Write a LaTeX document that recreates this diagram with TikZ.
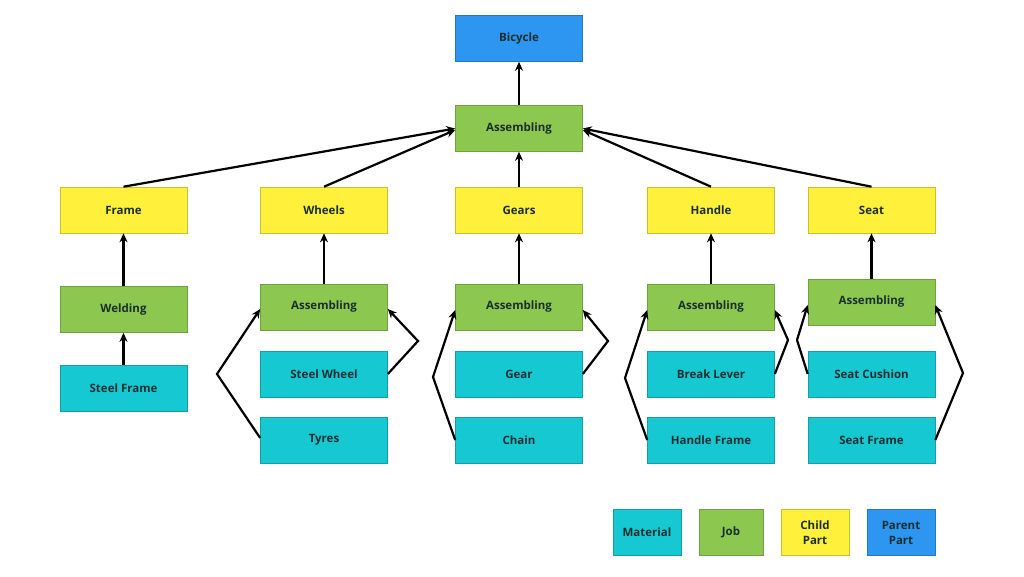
\documentclass[tikz,border=0pt]{standalone}
\usepackage{fontspec}
\setmainfont{Open Sans}
\usetikzlibrary{arrows.meta}
\definecolor{matc}{HTML}{16C8D2}
\definecolor{jobc}{HTML}{8CC850}
\definecolor{chc}{HTML}{FFF03C}
\definecolor{parc}{HTML}{2D96F0}
\definecolor{txtc}{HTML}{1A2E30}
\tikzset{
  box/.style={rectangle, minimum width=127pt, minimum height=46pt, inner sep=1pt,
    font=\fontsize{11.5}{15}\selectfont\bfseries, text=txtc, line width=0.6pt},
  mat/.style={box, fill=matc, draw=matc!80!black},
  job/.style={box, fill=jobc, draw=jobc!80!black},
  chp/.style={box, fill=chc, draw=chc!80!black},
  par/.style={box, fill=parc, draw=parc!80!black},
  arr/.style={-{Stealth[length=9pt,width=8pt]}, line width=2.2pt, black, line join=miter},
}
\begin{document}
\begin{tikzpicture}[x=1pt,y=-1pt]
\useasboundingbox[fill=white] (0,0) rectangle (1024,576);
% top
\node[par] (bicycle) at (519,38.5) {Bicycle};
\node[job] (asm0) at (519,128.5) {Assembling};
% child parts
\node[chp] (frame) at (123.5,210) {Frame};
\node[chp] (wheels) at (324,210) {Wheels};
\node[chp] (gears) at (519,210) {Gears};
\node[chp] (handle) at (711,210) {Handle};
\node[chp] (seat) at (871.5,210) {Seat};
% jobs
\node[job] (welding) at (123.5,309.5) {Welding};
\node[job] (asmW) at (324,307) {Assembling};
\node[job] (asmG) at (519,307) {Assembling};
\node[job] (asmH) at (711,307) {Assembling};
\node[job] (asmS) at (871.5,302) {Assembling};
% materials
\node[mat] (steelframe) at (123.5,388) {Steel Frame};
\node[mat] (steelwheel) at (324,374) {Steel Wheel};
\node[mat] (gear) at (519,374) {Gear};
\node[mat] (brake) at (711,374) {Break Lever};
\node[mat] (cushion) at (871.5,374) {Seat Cushion};
\node[mat] (tyres) at (324,440) {Tyres};
\node[mat] (chain) at (519,440) {Chain};
\node[mat] (hframe) at (711,440) {Handle Frame};
\node[mat] (seatframe) at (871.5,440) {Seat Frame};
% legend
\node[mat, minimum width=68pt, align=center] (lmat) at (647,532.5) {Material};
\node[job, minimum width=64pt, align=center] (ljob) at (731,532.5) {Job};
\node[chp, minimum width=68pt, align=center] (lchild) at (815,532.5) {Child\\Part};
\node[par, minimum width=68pt, align=center] (lpar) at (901,532.5) {Parent\\Part};
% bend points
\coordinate (wl) at (217,374);
\coordinate (wr) at (418,341);
\coordinate (gl) at (433,377);
\coordinate (gr) at (608,341);
\coordinate (hl) at (625,378);
\coordinate (hr) at (788,340);
\coordinate (sl) at (797,340);
\coordinate (sr) at (963,373);
% connectors
\draw[arr] (asm0) -- (bicycle);
\draw[arr] (frame.north) -- (asm0.west);
\draw[arr] (wheels.north) -- ([yshift=-1.5pt]asm0.west);
\draw[arr] (gears) -- (asm0);
\draw[arr] (handle.north) -- ([yshift=-1.5pt]asm0.east);
\draw[arr] (seat.north) -- (asm0.east);
\draw[arr] (welding) -- (frame);
\draw[arr] (steelframe) -- (welding);
\draw[arr] (asmW) -- (wheels);
\draw[arr] (asmG) -- (gears);
\draw[arr] (asmH) -- (handle);
\draw[arr] (asmS) -- (seat);
\draw[arr] ([yshift=2pt]tyres.west) -- (wl) -- ([yshift=-2pt]asmW.west);
\draw[arr] (steelwheel.east) -- (wr) -- ([yshift=-2pt]asmW.east);
\draw[arr] (chain.west) -- (gl) -- ([yshift=-3pt]asmG.west);
\draw[arr] (gear.east) -- (gr) -- ([yshift=-3pt]asmG.east);
\draw[arr] (hframe.west) -- (hl) -- ([yshift=-3pt]asmH.west);
\draw[arr] (brake.east) -- (hr) -- ([yshift=-3pt]asmH.east);
\draw[arr] (cushion.west) -- (sl) -- ([yshift=-3pt]asmS.west);
\draw[arr] (seatframe.east) -- (sr) -- ([yshift=-3pt]asmS.east);
\end{tikzpicture}
\end{document}
